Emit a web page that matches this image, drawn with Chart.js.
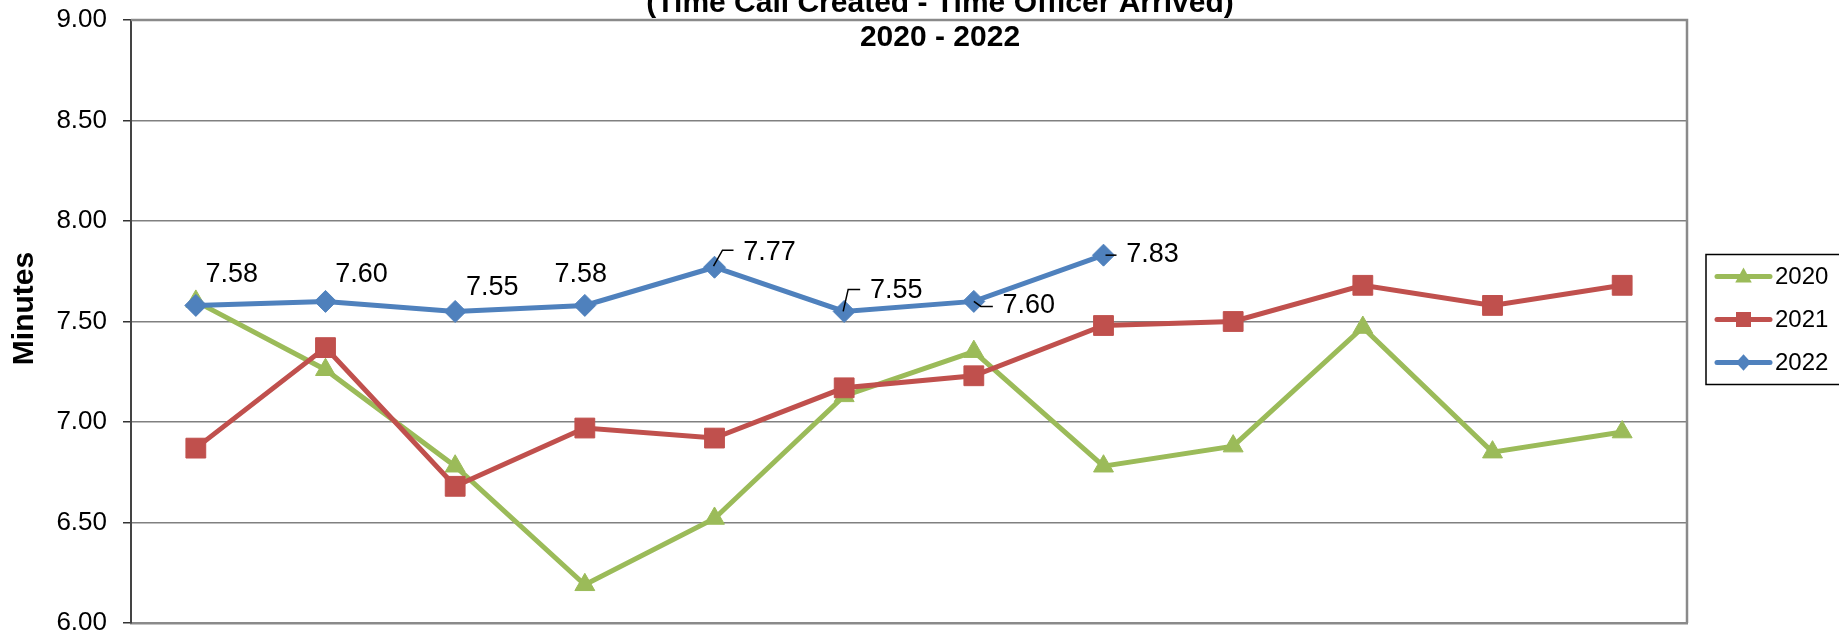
<!DOCTYPE html>
<html><head><meta charset="utf-8">
<script src="https://cdn.jsdelivr.net/npm/chart.js@4.4.1/dist/chart.umd.min.js"></script>
<style>
html,body{margin:0;padding:0;overflow:hidden;background:#fff;width:1839px;height:636px}
#wrap{position:relative;left:0;top:0;width:1839px;height:636px;overflow:hidden}
#c{position:absolute;left:0;top:0}
</style></head><body>
<div id="wrap"><canvas id="c" width="1880" height="636"></canvas></div>
<script>
// ---- data ----
const months = ['Jan','Feb','Mar','Apr','May','Jun','Jul','Aug','Sep','Oct','Nov','Dec'];
const seriesNames = ['2020','2021','2022'];
const values2020 = [7.60, 7.26, 6.78, 6.19, 6.52, 7.13, 7.35, 6.78, 6.88, 7.47, 6.85, 6.95];
const values2021 = [6.87, 7.37, 6.68, 6.97, 6.92, 7.17, 7.23, 7.48, 7.50, 7.68, 7.58, 7.68];
const values2022 = [7.58, 7.60, 7.55, 7.58, 7.77, 7.55, 7.60, 7.83];
const yTickValues = [6.00, 6.50, 7.00, 7.50, 8.00, 8.50, 9.00];
const titleLines = ['(Time Call Created - Time Officer Arrived)', '2020 - 2022'];
const yAxisTitle = 'Minutes';

// ---- styling (separate from data) ----
const FONT = "'Liberation Sans', Arial, sans-serif";
const colors = ['#9BBB59', '#C0504D', '#4F81BD'];
const pointStyles = ['triangle', 'rect', 'rectRot'];
const pointRadii = [11.5, 14, 11];
const labelOffsets = [[36,-31],[36,-27],[37,-24],[-4,-31],[55,-15],[52,-21],[55,4],[49,-1]];
const leaders = [null,null,null,null,
  [[-1,-1],[8,-17],[19,-17]],
  [[-1,0],[4,-22],[16,-22]],
  [[0,0],[7,5],[19,5]],
  [[2,0],[13,0]]];

const seriesValues = [values2020, values2021, values2022];

function drawMarker(ctx, style, x, y, s, color){
  ctx.save();
  ctx.fillStyle = color;
  ctx.beginPath();
  if (style === 'triangle') {
    ctx.moveTo(x, y - s*0.6); ctx.lineTo(x + s*0.55, y + s*0.4); ctx.lineTo(x - s*0.55, y + s*0.4);
  } else if (style === 'rect') {
    ctx.rect(x - s/2, y - s/2, s, s);
  } else {
    ctx.moveTo(x, y - s*0.55); ctx.lineTo(x + s*0.5, y); ctx.lineTo(x, y + s*0.55); ctx.lineTo(x - s*0.5, y);
  }
  ctx.closePath(); ctx.fill();
  ctx.restore();
}

const decor = {
  id: 'decor',
  beforeDatasetsDraw(chart) {
    const {ctx, chartArea: a} = chart;
    ctx.save();
    ctx.strokeStyle = '#8a8a8a'; ctx.lineWidth = 2.5;
    ctx.beginPath();
    ctx.moveTo(a.left, a.top); ctx.lineTo(a.right, a.top); ctx.lineTo(a.right, a.bottom);
    ctx.stroke();
    ctx.translate(25, (a.top + a.bottom) / 2 - 13);
    ctx.rotate(-Math.PI / 2);
    ctx.font = 'bold 30px ' + FONT;
    ctx.fillStyle = '#000';
    ctx.textAlign = 'center';
    ctx.textBaseline = 'middle';
    ctx.fillText(yAxisTitle, 0, 0);
    ctx.restore();
  },
  afterDatasetsDraw(chart) {
    const {ctx} = chart;
    const meta = chart.getDatasetMeta(2);
    ctx.save();
    ctx.font = '27px ' + FONT;
    ctx.fillStyle = '#000';
    ctx.textAlign = 'center';
    ctx.textBaseline = 'middle';
    ctx.strokeStyle = '#000';
    ctx.lineWidth = 1.5;
    meta.data.forEach((el, i) => {
      const v = chart.data.datasets[2].data[i];
      if (v == null) return;
      const off = labelOffsets[i] || [0, -30];
      const ld = leaders[i];
      if (ld) {
        ctx.beginPath();
        ld.forEach((p, k) => { if (k === 0) ctx.moveTo(el.x + p[0], el.y + p[1]); else ctx.lineTo(el.x + p[0], el.y + p[1]); });
        ctx.stroke();
      }
      ctx.fillText(v.toFixed(2), el.x + off[0], el.y + off[1]);
    });
    ctx.restore();
  },
  afterDraw(chart) {
    const {ctx, chartArea: a} = chart;
    ctx.save();
    ctx.font = 'bold 30px ' + FONT;
    ctx.fillStyle = '#000';
    ctx.textAlign = 'center';
    ctx.textBaseline = 'alphabetic';
    ctx.fillText(titleLines[0], chart.width / 2, 12);
    ctx.fillText(titleLines[1], chart.width / 2, 46);
    const lx = a.right + 19;
    const cy = (a.top + a.bottom) / 2;
    const top = cy - 67;
    ctx.strokeStyle = '#000'; ctx.lineWidth = 1.5;
    ctx.strokeRect(lx, top, 160, 130);
    ctx.font = '24px ' + FONT;
    ctx.textAlign = 'left'; ctx.textBaseline = 'middle';
    chart.data.datasets.forEach((ds, i) => {
      const y = top + 22 + 43 * i;
      ctx.strokeStyle = ds.borderColor; ctx.lineWidth = 5; ctx.lineCap = 'round';
      ctx.beginPath(); ctx.moveTo(lx + 11, y); ctx.lineTo(lx + 64, y); ctx.stroke();
      drawMarker(ctx, pointStyles[i], lx + 37.5, y, 15, ds.borderColor);
      ctx.fillStyle = '#000';
      ctx.fillText(ds.label, lx + 69, y + 1);
    });
    ctx.restore();
  }
};

const datasets = seriesNames.map((name, i) => ({
  label: name,
  data: seriesValues[i],
  borderColor: colors[i],
  backgroundColor: colors[i],
  pointBackgroundColor: colors[i],
  pointBorderColor: colors[i],
  pointBorderWidth: 1,
  borderWidth: 5,
  pointStyle: pointStyles[i],
  pointRadius: pointRadii[i],
  pointHoverRadius: pointRadii[i],
  tension: 0,
  fill: false,
  order: 3 - i
}));

new Chart(document.getElementById('c'), {
  type: 'line',
  data: { labels: months, datasets },
  options: {
    responsive: false,
    devicePixelRatio: 1,
    animation: false,
    layout: { autoPadding: false, padding: { top: 0, bottom: 0, left: 0, right: 193 } },
    plugins: { legend: { display: false }, title: { display: false }, tooltip: { enabled: false } },
    scales: {
      x: {
        offset: true,
        ticks: { display: false },
        grid: { display: false, drawTicks: false },
        border: { display: true, color: '#8a8a8a', width: 2.5 },
        afterFit(s) { s.height = 13; s.paddingLeft = 0; s.paddingRight = 0; }
      },
      y: {
        min: 6, max: 9,
        afterBuildTicks(s) { s.ticks = yTickValues.map(v => ({ value: v })); },
        ticks: {
          color: '#000',
          padding: 16,
          font: { family: FONT, size: 26 },
          callback: v => Number(v).toFixed(2)
        },
        grid: { color: '#808080', lineWidth: 1.5, tickColor: '#333', tickLength: 8, drawTicks: true },
        border: { display: true, color: '#444', width: 2 },
        title: { display: false },
        afterFit(s) { s.width = 131; s.paddingTop = 20; s.paddingBottom = 0; }
      }
    }
  },
  plugins: [decor]
});
</script>
</body></html>
